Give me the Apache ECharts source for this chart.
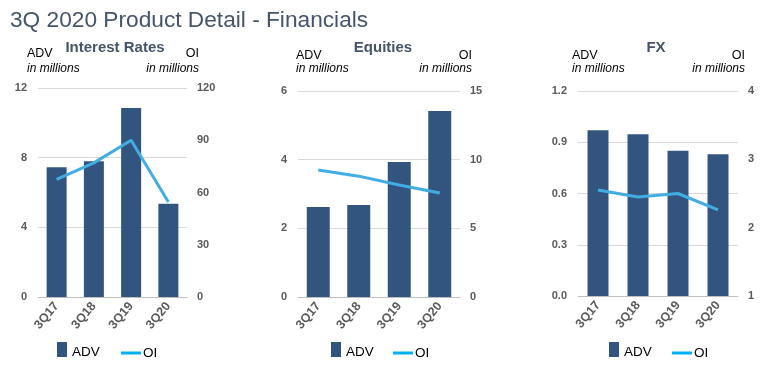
<!DOCTYPE html>
<html><head><meta charset="utf-8">
<script src="https://cdn.jsdelivr.net/npm/echarts@6/dist/echarts.min.js"></script>
<style>html,body{margin:0;padding:0;background:#fff}#c{width:772px;height:371px}</style>
</head><body><div id="c"></div>
<script>
const categories = ['3Q17','3Q18','3Q19','3Q20'];
const panelTitles = ['Interest Rates','Equities','FX'];
const advIR = [7.45, 7.8, 10.85, 5.35];
const oiIR = [67.5, 77, 90, 54.5];
const advEQ = [2.62, 2.68, 3.93, 5.42];
const oiEQ = [9.25, 8.8, 8.15, 7.57];
const advFX = [0.97, 0.947, 0.85, 0.83];
const oiFX = [2.55, 2.45, 2.5, 2.26];
const leftTicks = [[0,12,4],[0,6,2],[0,1.2,0.3]];
const rightTicks = [[0,120,30],[0,15,5],[1,4,1]];

const advData = [advIR, advEQ, advFX];
const oiData = [oiIR, oiEQ, oiFX];
const grids = [
  {left:38, top:88, width:149, height:209},
  {left:298, top:91, width:162, height:206},
  {left:578, top:91, width:160, height:205}
];
const barWidths = [20, 23, 21];
const layout = [
  {center:115, advX:27, oiR:199, legBar:57, legLine:121, tY:48, aY:47, mY:63},
  {center:383, advX:296, oiR:472, legBar:331, legLine:393, tY:48, aY:49, mY:63},
  {center:656, advX:572, oiR:745, legBar:609, legLine:672, tY:48, aY:49, mY:63}
];
const axisLbl = {color:'#595959', fontWeight:'bold', fontSize:11, fontFamily:'Liberation Sans'};

const option = {
  animation:false,
  textStyle:{fontFamily:'Liberation Sans'},
  title:[{text:'3Q 2020 Product Detail - Financials', left:5, top:4,
    textStyle:{fontSize:22.7, fontWeight:'normal', color:'#44546a', fontFamily:'Liberation Sans'}}],
  grid:[], xAxis:[], yAxis:[], series:[], legend:[]
};

for (let i=0;i<3;i++){
  const L = layout[i];
  option.title.push({text:panelTitles[i], left:L.center, top:L.tY, textAlign:'center', textVerticalAlign:'middle', padding:0,
    textStyle:{fontSize:15, fontWeight:'bold', color:'#44546a', fontFamily:'Liberation Sans'}});
  option.title.push({text:'ADV', left:L.advX, top:L.aY, textStyle:{fontSize:12.5,fontWeight:'normal',color:'#000',fontFamily:'Liberation Sans'}, padding:0});
  option.title.push({text:'in millions', left:L.advX, top:L.mY, textStyle:{fontSize:12,fontWeight:'normal',fontStyle:'italic',color:'#000',fontFamily:'Liberation Sans'}, padding:0});
  option.title.push({text:'OI', right:772-L.oiR, top:L.aY, textStyle:{fontSize:12.5,fontWeight:'normal',color:'#000',fontFamily:'Liberation Sans'}, padding:0});
  option.title.push({text:'in millions', right:772-L.oiR, top:L.mY, textStyle:{fontSize:12,fontWeight:'normal',fontStyle:'italic',color:'#000',fontFamily:'Liberation Sans'}, padding:0});

  option.grid.push(grids[i]);
  option.xAxis.push({type:'category', gridIndex:i, data:categories,
    axisLine:{lineStyle:{color:'#bfbfbf'}}, axisTick:{show:false},
    axisLabel:Object.assign({}, axisLbl, {rotate:50, margin:7, interval:0, fontSize:12.5})});
  const lt = leftTicks[i], rt = rightTicks[i];
  option.yAxis.push({type:'value', gridIndex:i, position:'left', min:lt[0], max:lt[1], interval:lt[2],
    axisLine:{show:false}, axisTick:{show:false},
    splitLine:{lineStyle:{color:'#d9d9d9'}},
    axisLabel:Object.assign({margin:11, formatter: i===2 ? (v=>v.toFixed(1)) : undefined}, axisLbl)});
  option.yAxis.push({type:'value', gridIndex:i, position:'right', min:rt[0], max:rt[1], interval:rt[2],
    axisLine:{show:false}, axisTick:{show:false}, splitLine:{show:false},
    axisLabel:Object.assign({margin:10}, axisLbl)});
  option.series.push({name:'ADV', type:'bar', xAxisIndex:i, yAxisIndex:2*i, data:advData[i],
    barWidth:barWidths[i], itemStyle:{color:'#31557f'}});
  option.series.push({name:'OI', type:'line', xAxisIndex:i, yAxisIndex:2*i+1, data:oiData[i],
    symbol:'none', lineStyle:{color:'#42ade2', width:3}, itemStyle:{color:'#42ade2'}});
  option.legend.push({data:[{name:'ADV', icon:'rect'}], left:L.legBar, top:342, itemWidth:10, itemHeight:15,
    padding:0, selectedMode:false, formatter:'{a|{name}}',
    textStyle:{fontSize:13.5, color:'#000', rich:{a:{fontSize:13.5, color:'#000', padding:[6,0,0,0]}}}});
  option.legend.push({data:[{name:'OI', icon:'rect', itemStyle:{color:'#00b0f0'}}], left:L.legLine, top:346,
    itemWidth:20, itemHeight:3, padding:0, selectedMode:false, textStyle:{fontSize:13.5, color:'#000', padding:[4,0,0,-3]}});
}
const chart = echarts.init(document.getElementById('c'), null, {renderer:'canvas'});
chart.setOption(option);
</script></body></html>
